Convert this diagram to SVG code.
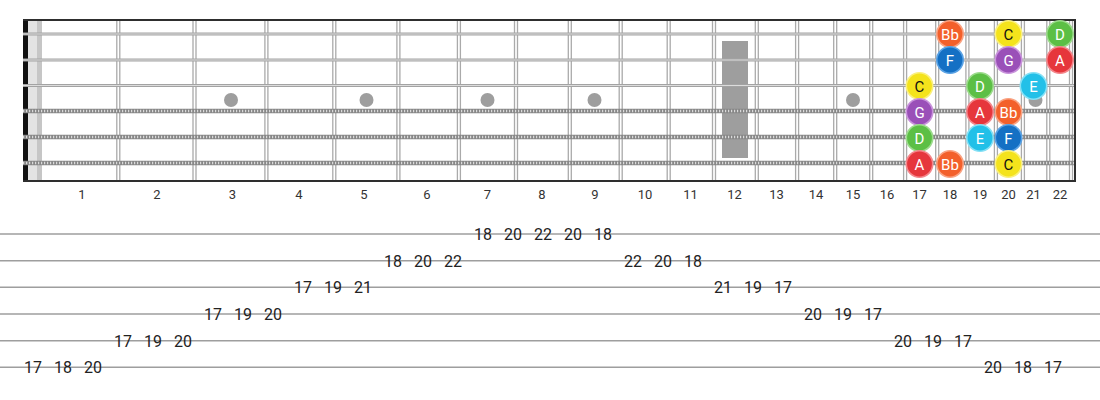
<svg xmlns="http://www.w3.org/2000/svg" width="1100" height="400" viewBox="0 0 1100 400">
  <style>
    .fret{stroke:#aaaaaa;stroke-width:1.3;fill:none}
    .plain{stroke:#a3a3a3;stroke-width:3}
    .plainc{stroke:#e2e2e2;stroke-width:0.9}
    .wound{stroke:#878787;stroke-width:4.6}
    .woundc{stroke:#dadada;stroke-width:2.4;stroke-dasharray:1.2 1.8}
    .border{stroke:#2e2e2e;stroke-width:2;fill:none}
    .dot{fill:#9e9e9e}
    .flab{font-family:Roboto,"Liberation Sans",sans-serif;font-size:13px;fill:#333;text-anchor:middle}
    .tabline{stroke:#9e9e9e;stroke-width:1.5}
    .tab{font-family:Roboto,"Liberation Sans",sans-serif;font-size:16px;fill:#222;text-anchor:middle}
    .nt{font-family:Roboto,"Liberation Sans",sans-serif;font-size:15px;fill:#fff;text-anchor:middle}
    .ntd{fill:#111}
    .A{fill:#e6363c;stroke:#f4868b;stroke-width:1.6}
    .Bb{fill:#f3602b;stroke:#f9a383;stroke-width:1.6}
    .C{fill:#f4e31c;stroke:#faf07e;stroke-width:1.6}
    .D{fill:#5cbf45;stroke:#9cdb8c;stroke-width:1.6}
    .E{fill:#22c0e8;stroke:#86e0f5;stroke-width:1.6}
    .F{fill:#1470c4;stroke:#5aa2e4;stroke-width:1.6}
    .G{fill:#9a50b8;stroke:#c993dc;stroke-width:1.6}
  </style>
  <rect width="1100" height="400" fill="#fff"/>

  <g id="fretboard">
    <rect x="23" y="20" width="1052" height="161" fill="#fff"/>
    <rect x="28" y="20" width="9" height="161" fill="#e3e3e3"/>
    <rect x="37" y="20" width="5" height="161" fill="#c6c6c6"/>
    <rect x="23" y="20" width="5" height="161" fill="#111"/>
    <circle class="dot" cx="231" cy="100" r="7"/>
    <circle class="dot" cx="366.5" cy="100" r="7"/>
    <circle class="dot" cx="487.5" cy="100" r="7"/>
    <circle class="dot" cx="594.5" cy="100" r="7"/>
    <rect class="dot" x="722" y="41" width="26" height="117"/>
    <circle class="dot" cx="853" cy="100" r="7"/>
    <circle class="dot" cx="1035.5" cy="100" r="7"/>
    <g id="frets">
      <path class="fret" d="M116.8 20V181M119.8 20V181M193 20V181M196 20V181M264.9 20V181M267.9 20V181M332.8 20V181M335.8 20V181M396.9 20V181M399.9 20V181M457.4 20V181M460.4 20V181M514.5 20V181M517.5 20V181M568.3 20V181M571.3 20V181M619.2 20V181M622.2 20V181M667.2 20V181M670.2 20V181M712.5 20V181M715.5 20V181M755.3 20V181M758.3 20V181M795.6 20V181M798.6 20V181M833.7 20V181M836.7 20V181M869.7 20V181M872.7 20V181M903.6 20V181M906.6 20V181M935.7 20V181M938.7 20V181M965.9 20V181M968.9 20V181M994.4 20V181M997.4 20V181M1021.4 20V181M1024.4 20V181M1046.8 20V181M1049.8 20V181M1069.5 20V181M1072.5 20V181"/>
    </g>
    <g id="strings">
      <line class="plain" x1="23" y1="34" x2="1075" y2="34"/>
      <line class="plainc" x1="23" y1="34" x2="1075" y2="34"/>
      <line class="plain" x1="23" y1="60" x2="1075" y2="60"/>
      <line class="plainc" x1="23" y1="60" x2="1075" y2="60"/>
      <line class="plain" x1="23" y1="85.5" x2="1075" y2="85.5"/>
      <line class="plainc" x1="23" y1="85.5" x2="1075" y2="85.5"/>
      <line class="wound" x1="23" y1="111" x2="1075" y2="111"/>
      <line class="woundc" x1="23" y1="111" x2="1075" y2="111"/>
      <line class="wound" x1="23" y1="137" x2="1075" y2="137"/>
      <line class="woundc" x1="23" y1="137" x2="1075" y2="137"/>
      <line class="wound" x1="23" y1="163" x2="1075" y2="163"/>
      <line class="woundc" x1="23" y1="163" x2="1075" y2="163"/>
    </g>
    <path class="border" d="M23 20H1075V181H23"/>
  </g>

  <g id="fret-numbers">
    <text class="flab" x="82" y="199">1</text>
    <text class="flab" x="157" y="199">2</text>
    <text class="flab" x="232.5" y="199">3</text>
    <text class="flab" x="299" y="199">4</text>
    <text class="flab" x="364" y="199">5</text>
    <text class="flab" x="427" y="199">6</text>
    <text class="flab" x="487.5" y="199">7</text>
    <text class="flab" x="542" y="199">8</text>
    <text class="flab" x="595" y="199">9</text>
    <text class="flab" x="645" y="199">10</text>
    <text class="flab" x="690.5" y="199">11</text>
    <text class="flab" x="734.5" y="199">12</text>
    <text class="flab" x="776.5" y="199">13</text>
    <text class="flab" x="816" y="199">14</text>
    <text class="flab" x="853" y="199">15</text>
    <text class="flab" x="887" y="199">16</text>
    <text class="flab" x="919.5" y="199">17</text>
    <text class="flab" x="950" y="199">18</text>
    <text class="flab" x="980" y="199">19</text>
    <text class="flab" x="1008.5" y="199">20</text>
    <text class="flab" x="1033.5" y="199">21</text>
    <text class="flab" x="1060" y="199">22</text>
  </g>

  <g id="s1-f18"><circle class="Bb" cx="950" cy="34" r="13.2"/><text class="nt" x="950" y="39.5">Bb</text></g>
  <g id="s1-f20"><circle class="C" cx="1008.5" cy="34" r="13.2"/><text class="nt ntd" x="1008.5" y="39.5">C</text></g>
  <g id="s1-f22"><circle class="D" cx="1060" cy="34" r="13.2"/><text class="nt" x="1060" y="39.5">D</text></g>
  <g id="s2-f18"><circle class="F" cx="950" cy="60" r="13.2"/><text class="nt" x="950" y="65.5">F</text></g>
  <g id="s2-f20"><circle class="G" cx="1008.5" cy="60" r="13.2"/><text class="nt" x="1008.5" y="65.5">G</text></g>
  <g id="s2-f22"><circle class="A" cx="1060" cy="60" r="13.2"/><text class="nt" x="1060" y="65.5">A</text></g>
  <g id="s3-f17"><circle class="C" cx="919.5" cy="86" r="13.2"/><text class="nt ntd" x="919.5" y="91.5">C</text></g>
  <g id="s3-f19"><circle class="D" cx="980" cy="86" r="13.2"/><text class="nt" x="980" y="91.5">D</text></g>
  <g id="s3-f21"><circle class="E" cx="1033.5" cy="86" r="13.2"/><text class="nt" x="1033.5" y="91.5">E</text></g>
  <g id="s4-f17"><circle class="G" cx="919.5" cy="112" r="13.2"/><text class="nt" x="919.5" y="117.5">G</text></g>
  <g id="s4-f19"><circle class="A" cx="980" cy="112" r="13.2"/><text class="nt" x="980" y="117.5">A</text></g>
  <g id="s4-f20"><circle class="Bb" cx="1008.5" cy="112" r="13.2"/><text class="nt" x="1008.5" y="117.5">Bb</text></g>
  <g id="s5-f17"><circle class="D" cx="919.5" cy="138" r="13.2"/><text class="nt" x="919.5" y="143.5">D</text></g>
  <g id="s5-f19"><circle class="E" cx="980" cy="138" r="13.2"/><text class="nt" x="980" y="143.5">E</text></g>
  <g id="s5-f20"><circle class="F" cx="1008.5" cy="138" r="13.2"/><text class="nt" x="1008.5" y="143.5">F</text></g>
  <g id="s6-f17"><circle class="A" cx="919.5" cy="164" r="13.2"/><text class="nt" x="919.5" y="169.5">A</text></g>
  <g id="s6-f18"><circle class="Bb" cx="950" cy="164" r="13.2"/><text class="nt" x="950" y="169.5">Bb</text></g>
  <g id="s6-f20"><circle class="C" cx="1008.5" cy="164" r="13.2"/><text class="nt ntd" x="1008.5" y="169.5">C</text></g>

  <g id="tab-lines">
    <line class="tabline" x1="0" y1="234" x2="1100" y2="234"/>
    <line class="tabline" x1="0" y1="260.7" x2="1100" y2="260.7"/>
    <line class="tabline" x1="0" y1="287.3" x2="1100" y2="287.3"/>
    <line class="tabline" x1="0" y1="314" x2="1100" y2="314"/>
    <line class="tabline" x1="0" y1="340.7" x2="1100" y2="340.7"/>
    <line class="tabline" x1="0" y1="367.3" x2="1100" y2="367.3"/>
  </g>
  <g id="tab-numbers">
    <text class="tab" x="33" y="373">17</text>
    <text class="tab" x="63" y="373">18</text>
    <text class="tab" x="93" y="373">20</text>
    <text class="tab" x="123" y="346.5">17</text>
    <text class="tab" x="153" y="346.5">19</text>
    <text class="tab" x="183" y="346.5">20</text>
    <text class="tab" x="213" y="320">17</text>
    <text class="tab" x="243" y="320">19</text>
    <text class="tab" x="273" y="320">20</text>
    <text class="tab" x="303" y="293">17</text>
    <text class="tab" x="333" y="293">19</text>
    <text class="tab" x="363" y="293">21</text>
    <text class="tab" x="393" y="266.5">18</text>
    <text class="tab" x="423" y="266.5">20</text>
    <text class="tab" x="453" y="266.5">22</text>
    <text class="tab" x="483" y="240">18</text>
    <text class="tab" x="513" y="240">20</text>
    <text class="tab" x="543" y="240">22</text>
    <text class="tab" x="573" y="240">20</text>
    <text class="tab" x="603" y="240">18</text>
    <text class="tab" x="633" y="266.5">22</text>
    <text class="tab" x="663" y="266.5">20</text>
    <text class="tab" x="693" y="266.5">18</text>
    <text class="tab" x="723" y="293">21</text>
    <text class="tab" x="753" y="293">19</text>
    <text class="tab" x="783" y="293">17</text>
    <text class="tab" x="813" y="320">20</text>
    <text class="tab" x="843" y="320">19</text>
    <text class="tab" x="873" y="320">17</text>
    <text class="tab" x="903" y="346.5">20</text>
    <text class="tab" x="933" y="346.5">19</text>
    <text class="tab" x="963" y="346.5">17</text>
    <text class="tab" x="993" y="373">20</text>
    <text class="tab" x="1023" y="373">18</text>
    <text class="tab" x="1053" y="373">17</text>
  </g>
</svg>
